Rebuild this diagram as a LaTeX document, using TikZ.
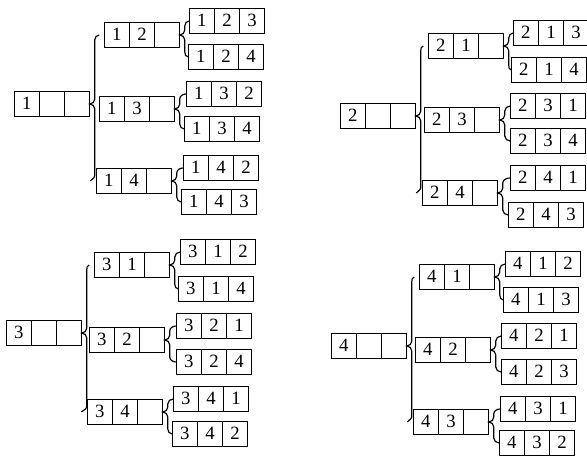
\documentclass[tikz,border=0pt]{standalone}
\usepackage{fontspec}
\setmainfont{Liberation Serif}
\usepackage{tikz}
\usetikzlibrary{calc, shapes.multipart}
\newcommand{\cellbox}[1]{\makebox[0.72cm]{\rule[-0.22cm]{0pt}{0.75cm}#1}}
\newcommand{\trip}[3]{\cellbox{#1}\nodepart{two}\cellbox{#2}\nodepart{three}\cellbox{#3}}
% brace from a parent box to its top and bottom child
\newcommand{\fork}[4][0]{%
  \draw[forkline] ($(#3.west)+(-#1,0)$) to[out=180,in=90] ($(#2.east |- #3.west)+(5,-5)$)
    -- ($(#2.east)+(5,5)$) to[out=-90,in=0] (#2.east)
    to[out=0,in=90] ($(#2.east)+(5,-5)$)
    -- ($(#2.east |- #4.west)+(5,5)$) to[out=-90,in=180] ($(#4.west)+(-#1,0)$);}
\tikzset{
	permnode/.style={
			rectangle split,
			rectangle split horizontal,
			rectangle split parts=3,
			draw=black,
			line width=1pt,
			inner sep=0pt,
			font=\fontsize{16}{19}\selectfont
		},
	forkline/.style={
			line width=1pt
		}
}

\begin{document}
\begin{tikzpicture}[x=0.03cm, y=0.03cm]
  \useasboundingbox (0,0) rectangle (587,-456);

  % tree 1
  \node[permnode] (r1) at (52,-104) {\trip{1}{}{}};
  \node[permnode] (n12) at (142,-35) {\trip{1}{2}{}};
  \node[permnode] (n13) at (137,-109) {\trip{1}{3}{}};
  \node[permnode] (n14) at (134,-181) {\trip{1}{4}{}};
  \node[permnode] (n123) at (227,-21) {\trip{1}{2}{3}};
  \node[permnode] (n124) at (226,-57) {\trip{1}{2}{4}};
  \node[permnode] (n132) at (224,-94) {\trip{1}{3}{2}};
  \node[permnode] (n134) at (222,-129) {\trip{1}{3}{4}};
  \node[permnode] (n142) at (221,-168) {\trip{1}{4}{2}};
  \node[permnode] (n143) at (219,-202) {\trip{1}{4}{3}};

  % tree 2
  \node[permnode] (r2) at (378,-116) {\trip{2}{}{}};
  \node[permnode] (n21) at (466,-46) {\trip{2}{1}{}};
  \node[permnode] (n23) at (462,-120) {\trip{2}{3}{}};
  \node[permnode] (n24) at (460,-193) {\trip{2}{4}{}};
  \node[permnode] (n213) at (551,-33) {\trip{2}{1}{3}};
  \node[permnode] (n214) at (549,-70) {\trip{2}{1}{4}};
  \node[permnode] (n231) at (548,-106) {\trip{2}{3}{1}};
  \node[permnode] (n234) at (548,-141) {\trip{2}{3}{4}};
  \node[permnode] (n241) at (548,-178) {\trip{2}{4}{1}};
  \node[permnode] (n243) at (546,-215) {\trip{2}{4}{3}};

  % tree 3
  \node[permnode] (r3) at (44,-333) {\trip{3}{}{}};
  \node[permnode] (n31) at (132,-265) {\trip{3}{1}{}};
  \node[permnode] (n32) at (127,-340) {\trip{3}{2}{}};
  \node[permnode] (n34) at (125,-412) {\trip{3}{4}{}};
  \node[permnode] (n312) at (218,-252) {\trip{3}{1}{2}};
  \node[permnode] (n314) at (216,-289) {\trip{3}{1}{4}};
  \node[permnode] (n321) at (214,-326) {\trip{3}{2}{1}};
  \node[permnode] (n324) at (214,-362) {\trip{3}{2}{4}};
  \node[permnode] (n341) at (211,-399) {\trip{3}{4}{1}};
  \node[permnode] (n342) at (210,-434) {\trip{3}{4}{2}};

  % tree 4
  \node[permnode] (r4) at (369,-346) {\trip{4}{}{}};
  \node[permnode] (n41) at (457,-277) {\trip{4}{1}{}};
  \node[permnode] (n42) at (453,-350) {\trip{4}{2}{}};
  \node[permnode] (n43) at (451,-422) {\trip{4}{3}{}};
  \node[permnode] (n412) at (543,-264) {\trip{4}{1}{2}};
  \node[permnode] (n413) at (541,-300) {\trip{4}{1}{3}};
  \node[permnode] (n421) at (539,-336) {\trip{4}{2}{1}};
  \node[permnode] (n423) at (539,-372) {\trip{4}{2}{3}};
  \node[permnode] (n431) at (538,-409) {\trip{4}{3}{1}};
  \node[permnode] (n432) at (537,-443) {\trip{4}{3}{2}};

  % braces
  \fork[5]{r1}{n12}{n14}
  \fork{n12}{n123}{n124}
  \fork{n13}{n132}{n134}
  \fork{n14}{n142}{n143}
  \fork[5]{r2}{n21}{n24}
  \fork{n21}{n213}{n214}
  \fork{n23}{n231}{n234}
  \fork{n24}{n241}{n243}
  \fork[5]{r3}{n31}{n34}
  \fork{n31}{n312}{n314}
  \fork{n32}{n321}{n324}
  \fork{n34}{n341}{n342}
  \fork[5]{r4}{n41}{n43}
  \fork{n41}{n412}{n413}
  \fork{n42}{n421}{n423}
  \fork{n43}{n431}{n432}

\end{tikzpicture}
\end{document}
